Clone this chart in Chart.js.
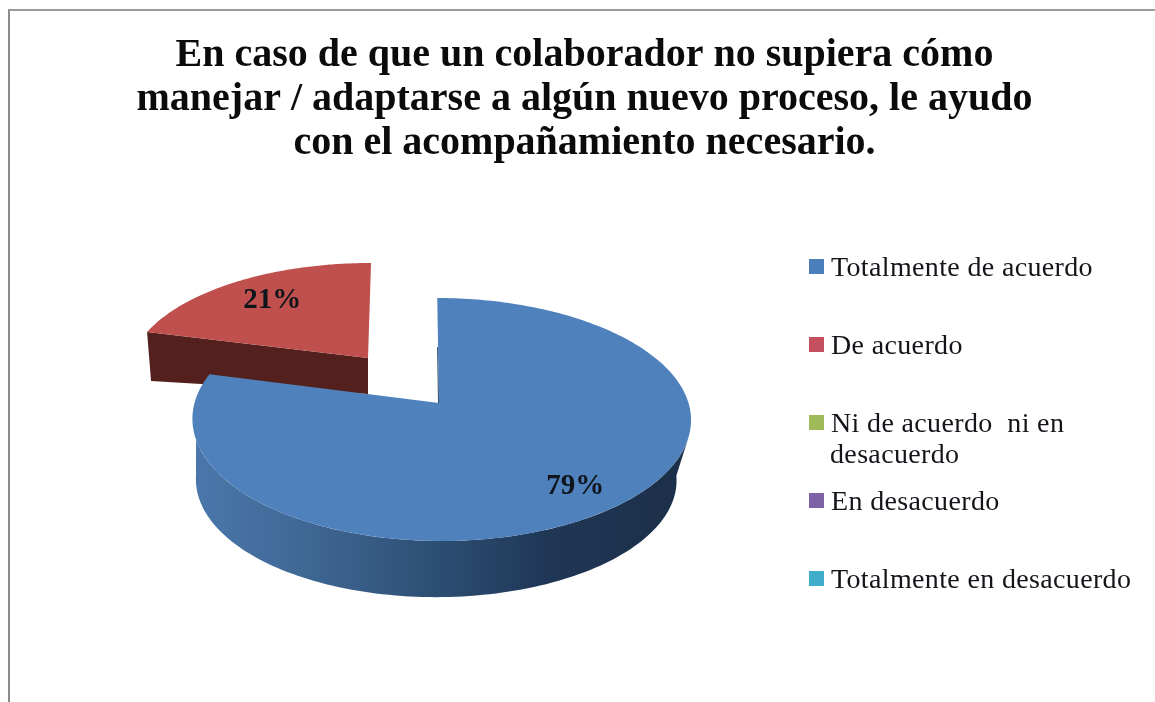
<!DOCTYPE html>
<html><head><meta charset="utf-8">
<script src="https://cdn.jsdelivr.net/npm/chart.js@4"></script>
<style>
html,body{margin:0;padding:0;background:#fff;overflow:hidden;width:1155px;height:702px}
#frame{position:absolute;left:8px;top:9px;width:1147px;height:693px;border-left:2px solid #8c8c8c;border-top:2px solid #9a9a9a;box-sizing:border-box;overflow:hidden}
canvas{position:absolute;left:0;top:0}
</style></head><body>
<div id="frame"><canvas id="c" width="1149" height="691"></canvas></div>
<script>
const titleLines = ["En caso de que un colaborador no supiera cómo","manejar / adaptarse a algún nuevo proceso, le ayudo","con el acompañamiento necesario."];
const categories = ["Totalmente de acuerdo","De acuerdo","Ni de acuerdo  ni en desacuerdo","En desacuerdo","Totalmente en desacuerdo"];
const legendLines = [["Totalmente de acuerdo"],["De acuerdo"],["Ni de acuerdo  ni en","desacuerdo"],["En desacuerdo"],["Totalmente en desacuerdo"]];
const values = [79,21,0,0,0];
const colors = ["#4f81bd","#c0504d","#9bbb59","#8064a2","#4bacc6"];
const swatchColors = ["#4a7fbc","#c4505f","#9fbb59","#7d62a5","#3fadc9"];

const OX=-10, OY=-11; // page px -> canvas px
const persp=-0.1358, ampY=119.26, ampX=247;
function faceTop(u,v){const d=1+persp*v;return [439+(ampX*u+2*v)/d+2.5*u*u, 403+ampY*v/d];}
function faceBase(u,v){const p=faceTop(u,v);return [436+.964*(p[0]-441.5),480+.964*(p[1]-419.5)];}
function redTop(u,v){const p=faceTop(u,v),dx=p[0]-439,dy=p[1]-403;return [368+.968*dx-.05*.905*dy,358+.905*dy];}
function redBase(u,v){const p=redTop(u,v);return [p[0]-4.1*u,p[1]+36-13.4*u];}
function uv(a,r=1){return [r*Math.cos(a),r*Math.sin(a)];}
function arcPts(fn,a0,a1,n=120){const out=[];for(let i=0;i<=n;i++){const a=a0+(a1-a0)*i/n;const [u,v]=uv(a);out.push(fn(u,v));}return out;}
function poly(ctx,pts,fill){ctx.beginPath();pts.forEach((p,i)=>i?ctx.lineTo(p[0],p[1]):ctx.moveTo(p[0],p[1]));ctx.closePath();ctx.fillStyle=fill;ctx.fill();}

const labelSpots=[{fn:faceTop,r:.81},{fn:redTop,r:.72}];

const pie3d={id:'pie3d',
 beforeDatasetDraw(chart){
  const ctx=chart.ctx,arcs=chart.getDatasetMeta(0).data;
  ctx.save();ctx.translate(OX,OY);
  const blue=arcs[0],red=arcs[1];
  const ra=red.startAngle,re=red.endAngle;
  const [ru,rv]=uv(ra);
  poly(ctx,[redTop(ru,rv),redTop(0,0),redBase(0,0),redBase(ru,rv)],'#53201d');
  poly(ctx,[redTop(0,0),...arcPts(redTop,ra,re)],colors[1]);
  const g=ctx.createLinearGradient(191,0,692,0);
  g.addColorStop(0,'#4a77ab');g.addColorStop(.2,'#416a98');g.addColorStop(.5,'#2c4d72');g.addColorStop(.72,'#1f3654');g.addColorStop(1,'#1c2f48');
  poly(ctx,[...arcPts(faceTop,.3,Math.PI-.3),...arcPts(faceBase,.1,Math.PI-.1).reverse()],g);
  poly(ctx,[faceTop(0,0),...arcPts(faceTop,blue.startAngle,blue.endAngle,240)],colors[0]);
  const [su,sv]=uv(blue.startAngle,.5);const ps=faceTop(su,sv),pa=faceTop(0,0);
  ctx.strokeStyle='#2a4a6e';ctx.lineWidth=1;ctx.beginPath();ctx.moveTo(ps[0]-.5,ps[1]);ctx.lineTo(pa[0]-.5,pa[1]);ctx.stroke();
  const total=values.reduce((s,x)=>s+x,0);
  ctx.font='bold 29px "Liberation Serif"';ctx.fillStyle='#10151c';ctx.textAlign='center';ctx.textBaseline='middle';
  labelSpots.forEach((s,i)=>{const m=(arcs[i].startAngle+arcs[i].endAngle)/2;const [u,v]=uv(m,s.r);const p=s.fn(u,v);
    ctx.fillText(Math.round(values[i]/total*100)+'%',p[0],p[1]);});
  ctx.restore();
  return false;
 },
 afterDraw(chart){
  const ctx=chart.ctx;ctx.save();ctx.translate(OX,OY);
  const ys=[259,337,415,493,571];
  ctx.font='28px "Liberation Serif"';ctx.textAlign='left';ctx.textBaseline='alphabetic';ctx.letterSpacing='0.35px';
  legendLines.forEach((lines,i)=>{
    ctx.fillStyle=swatchColors[i];ctx.fillRect(809,ys[i],15,15);
    ctx.fillStyle='#14141a';
    lines.forEach((t,j)=>ctx.fillText(t,j?830:831,ys[i]+16.5+j*31));
  });
  ctx.restore();
 }};

new Chart(document.getElementById('c'),{
 type:'pie',
 data:{labels:categories,datasets:[{data:values,backgroundColor:colors,borderWidth:0}]},
 options:{responsive:false,animation:false,
  plugins:{legend:{display:false},tooltip:{enabled:false},
   title:{display:true,text:titleLines,color:'#0b0b0b',font:{family:'"Liberation Serif"',size:40,weight:'bold',lineHeight:1.11},padding:{top:22,bottom:10}}}},
 plugins:[pie3d]
});
</script></body></html>
